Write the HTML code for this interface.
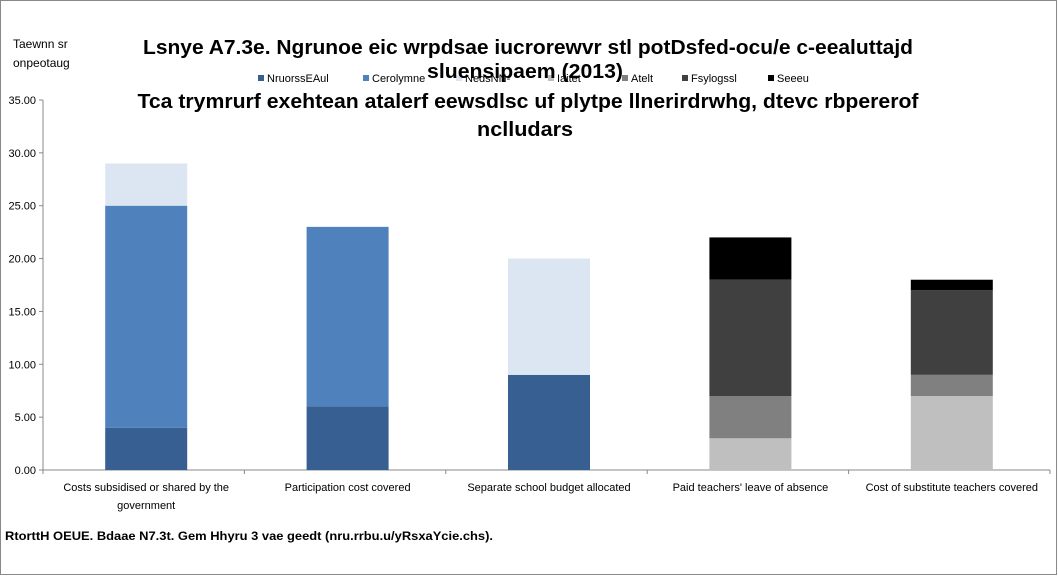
<!DOCTYPE html>
<html><head><meta charset="utf-8"><style>
body{margin:0;background:#fff}
svg{display:block;font-family:"Liberation Sans",sans-serif}
</style></head><body>
<svg id="chart" width="1058" height="576" xmlns="http://www.w3.org/2000/svg">
<rect x="0.5" y="0.5" width="1056" height="574" fill="#fff" stroke="#888"/>
<g id="grid"></g>
<g id="bars"></g>
<g id="legend"></g>
<text x="13" y="48" font-size="12" fill="#000">Taewnn sr</text>
<text x="13" y="67" font-size="12" fill="#000">onpeotaug</text>
<g font-weight="bold" font-size="20" text-anchor="middle" fill="#000">
<text x="528" y="54" textLength="770" lengthAdjust="spacingAndGlyphs">Lsnye A7.3e. Ngrunoe eic wrpdsae iucrorewvr stl potDsfed-ocu/e c-eealuttajd</text>
<text x="525" y="78" textLength="196" lengthAdjust="spacingAndGlyphs">sluensipaem (2013)</text>
<text x="528" y="108" textLength="781" lengthAdjust="spacingAndGlyphs">Tca trymrurf exehtean atalerf eewsdlsc uf plytpe llnerirdrwhg, dtevc rbpererof</text>
<text x="525" y="136" textLength="96" lengthAdjust="spacingAndGlyphs">nclludars</text>
</g>
<text x="5" y="540" font-size="12" font-weight="bold" textLength="488" lengthAdjust="spacingAndGlyphs">RtorttH OEUE. Bdaae N7.3t. Gem Hhyru 3 vae geedt (nru.rrbu.u/yRsxaYcie.chs).</text>
</svg>
<script>
const categories=[["Costs subsidised or shared by the","government"],["Participation cost covered"],["Separate school budget allocated"],["Paid teachers' leave of absence"],["Cost of substitute teachers covered"]];
const seriesNames=["NruorssEAul","Cerolymne","NedsNN-","Iaitet","Atelt","Fsylogssl","Seeeu"];
const seriesColors=["#375F92","#4F81BD","#DCE6F2","#BFBFBF","#808080","#404040","#000000"];
const s1=[4,6,9,0,0];
const s2=[21,17,0,0,0];
const s3=[4,0,11,0,0];
const s4=[0,0,0,3,7];
const s5=[0,0,0,4,2];
const s6=[0,0,0,11,8];
const s7=[0,0,0,4,1];
const yTicks=[0,5,10,15,20,25,30,35];
const yTickLabels=["0.00","5.00","10.00","15.00","20.00","25.00","30.00","35.00"];
const series=[s1,s2,s3,s4,s5,s6,s7];
const NS="http://www.w3.org/2000/svg";
const x0=43,x1=1050,yb=470,yt=100,ymax=35;
const y=v=>yb-(v/ymax)*(yb-yt);
const band=(x1-x0)/categories.length;
const xc=i=>x0+band*(i+0.5)+2.5;
function mk(tag,attrs,parent){const e=document.createElementNS(NS,tag);for(const k in attrs)e.setAttribute(k,attrs[k]);parent.appendChild(e);return e;}
const grid=document.getElementById('grid');
let ax=mk('line',{x1:x0,x2:x0,y1:yt,y2:yb,stroke:'#888'},grid);


let xa=mk('line',{x1:x0,x2:x1,y1:yb,y2:yb,stroke:'#888'},grid);


yTicks.forEach((t,i)=>{
 mk('line',{x1:x0-4,x2:x0,y1:y(t),y2:y(t),stroke:'#888'},grid);
 const tx=mk('text',{x:36,y:y(t)+4,'font-size':11,'text-anchor':'end'},grid);
 tx.textContent=yTickLabels[i];
 
 
});
for(let i=0;i<=categories.length;i++){mk('line',{x1:x0+band*i,x2:x0+band*i,y1:yb,y2:yb+4,stroke:'#888'},grid);}
const bars=document.getElementById('bars');
categories.forEach((c,i)=>{
 let acc=0;
 series.forEach((s,j)=>{
  const v=s[i]; if(!v)return;
  const r=mk('rect',{x:xc(i)-41,width:82,y:y(acc+v),height:y(acc)-y(acc+v),fill:seriesColors[j]},bars);
  
  
  acc+=v;
 });
 c.forEach((ln,k)=>{
  const t=mk('text',{x:xc(i),y:491+k*18,'font-size':11,'text-anchor':'middle'},bars);
  t.textContent=ln;
  
  
 });
});
const legend=document.getElementById('legend');
const lx=[258,363,456,548,622,682,768];
seriesNames.forEach((n,j)=>{
 const g=mk('g',{},legend);
 
 
 mk('rect',{x:lx[j],y:75,width:6,height:6,fill:seriesColors[j]},g);
 const t=mk('text',{x:lx[j]+9,y:82,'font-size':11},g);
 t.textContent=n;
});
</script>
</body></html>
